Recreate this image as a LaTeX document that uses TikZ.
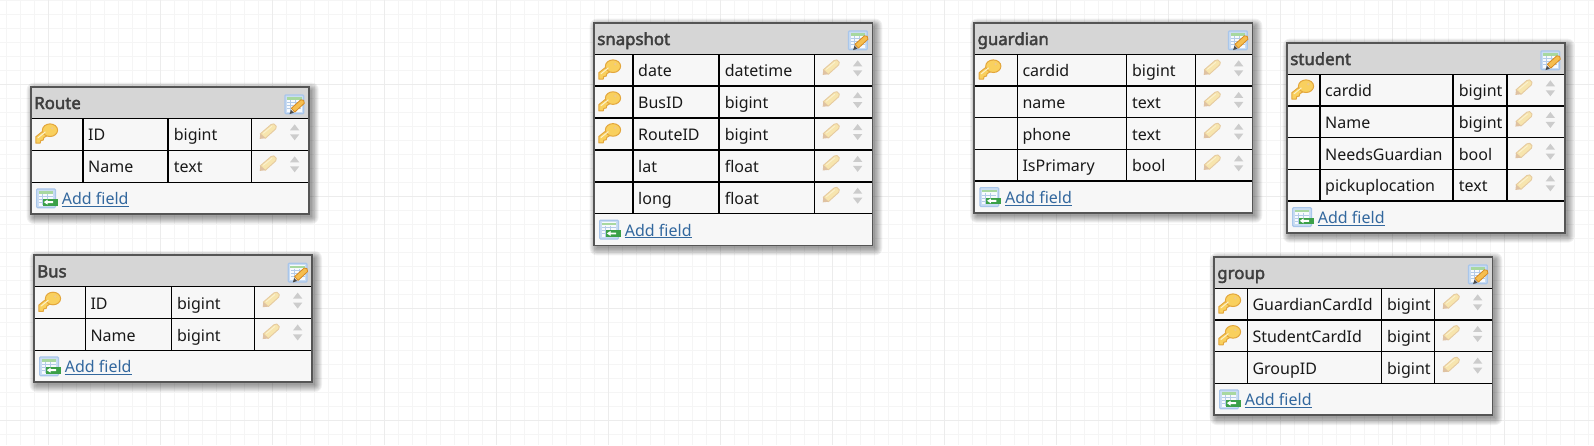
\documentclass[tikz,border=0pt]{standalone}
\usepackage{fontspec}
\setmainfont{Noto Sans}[AutoFakeBold=2.6]
\definecolor{gridminor}{HTML}{F5F5F5}
\definecolor{gridmajor}{HTML}{ECECEC}
\definecolor{headfill}{HTML}{D6D6D6}
\definecolor{rowfill}{HTML}{F7F7F7}
\definecolor{edgegray}{HTML}{555555}
\definecolor{titlegray}{HTML}{3F3F3F}
\definecolor{linkblue}{HTML}{33689E}
\definecolor{keyfill}{HTML}{F9D05E}
\definecolor{keyedge}{HTML}{E3A63C}
\definecolor{penfill}{HTML}{F7E5AE}
\definecolor{penedge}{HTML}{E6CBA0}
\definecolor{penlight}{HTML}{FBF1CC}
\definecolor{pentip}{HTML}{DFC2A2}
\definecolor{sheetedge}{HTML}{A9C6EA}
\definecolor{sheetfill}{HTML}{C9DCF3}
\definecolor{sheetgrid}{HTML}{B4CBE8}
\definecolor{sheetbar}{HTML}{A8D8A0}
\definecolor{editfill}{HTML}{F6BE4F}
\definecolor{editedge}{HTML}{D68A22}
\definecolor{addgreen}{HTML}{3BA048}
\tikzset{
  titletext/.style={anchor=base west,inner sep=0pt,font=\fontsize{16.8}{18}\selectfont\bfseries,text=titlegray},
  celltext/.style={anchor=base west,inner sep=0pt,font=\fontsize{16}{18}\selectfont,text=black!90},
  linktext/.style={anchor=base west,inner sep=0pt,font=\fontsize{16}{18}\selectfont,text=linkblue},
  tableline/.style={line width=1.6pt,draw=black},
  dbkey/.pic={
    \draw[draw=keyedge,fill=keyfill,line width=1pt,line join=round]
      (9.5,6.5) -- (0.8,13.5) -- (0.8,19.8) -- (5.2,19.8) -- (5.8,17.2) -- (8.2,16.8) -- (8.8,14.4) -- (13,11.8) -- cycle;
    \draw[draw=keyedge,fill=keyfill,line width=1pt]
      (15,6.9) ellipse [x radius=7.6,y radius=6.3];
    \fill[keyedge!60!white] (17.3,4.9) circle (1.4);
    \draw[penlight,line width=1pt,line cap=round] (3,14.5) -- (10.2,8.7);
  },
  dbpencil/.pic={
    \draw[draw=penedge,fill=penfill,line width=.9pt,line join=round]
      (1,10.5) -- (11.8,1.2) -- (14.6,0.6) -- (17,3) -- (16.4,5.6) -- (6,15) -- cycle;
    \fill[pentip] (0.4,15.6) -- (1,10.5) -- (6,15) -- cycle;
    \draw[penlight,line width=1pt,line cap=round] (4,10) -- (12.5,3);
  },
  dbarrows/.pic={
    \fill[black!20] (4.65,0) -- (9.3,6) -- (0,6) -- cycle;
    \fill[black!20] (0,10) -- (9.3,10) -- (4.65,16) -- cycle;
  },
  dbsheet/.pic={
    \draw[draw=sheetedge,fill=sheetfill,line width=1.2pt,rounded corners=1pt] (.6,.6) rectangle (19.4,19.4);
    \fill[white!85!sheetfill] (2.8,2.8) rectangle (17.2,17.2);
    \fill[sheetbar] (2.8,3) rectangle (17.2,5.2);
    \foreach \gy in {8,11,14} \draw[sheetgrid,line width=.8pt] (3,\gy) -- (17,\gy);
    \foreach \gx in {6.5,11.5} \draw[sheetgrid,line width=.8pt] (\gx,6) -- (\gx,17);
  },
  dbeditpen/.pic={
    \draw[draw=editedge,fill=editfill,line width=.8pt,line join=round]
      (7,14) -- (16.5,5.5) -- (19.3,6) -- (20,9) -- (10.5,17.8) -- cycle;
    \fill[black!70] (5.2,19.8) -- (6.6,15.4) -- (9.6,18.4) -- cycle;
  },
  dbaddarrow/.pic={
    \fill[addgreen] (6.5,10.5) rectangle (21.5,17.2);
    \fill[white] (7.8,13.8) -- (11.5,11.4) -- (11.5,12.9) -- (17,12.9) -- (17,14.8) -- (11.5,14.8) -- (11.5,16.3) -- cycle;
  },
}
% #1 id, #2 title, #3 L, #4 R, #5 T, #6 B, #7 c1, #8 c2, #9 c3; rows in \dbrows, row count in \dbn
\newcommand{\dbtable}[9]{%
  \pgfmathsetmacro{\rowh}{(#6-#5-63.3)/\dbn}
  \pgfmathsetmacro{\headb}{#5+31.6}
  \pgfmathsetmacro{\rowsb}{#6-31.7}
  \foreach \sr in {7,6,...,0}{
    \fill[black,opacity=.055,rounded corners=\sr pt] ({#3+3-\sr},{#5+3-\sr}) rectangle ({#4+3+\sr},{#6+3+\sr});
  }
  \fill[rowfill] (#3,#5) rectangle (#4,#6);
  \fill[headfill] (#3,#5) rectangle (#4,\headb);
  \foreach \fk/\fn/\ft [count=\ri] in \dbrows {
    \pgfmathsetmacro{\rt}{\headb+(\ri-1)*\rowh}
    \pgfmathsetmacro{\rb}{\rt+\rowh}
    \draw[tableline] (#3,\rb) -- (#4,\rb);
    \ifnum\fk=1 \pic at ({#3+4.3},{\rt+5}) {dbkey}; \fi
    \node[celltext] (#1-name-\ri) at ({#7+5},{\rt+22.6}) {\fn};
    \node[celltext] (#1-type-\ri) at ({#8+5.6},{\rt+22.6}) {\ft};
    \pic at ({#9+8},{\rt+5}) {dbpencil};
    \pic at ({#9+38.7},{\rt+6}) {dbarrows};
  }
  \draw[tableline] (#3,\headb) -- (#4,\headb);
  \foreach \cx in {#7,#8,#9} \draw[tableline] (\cx,\headb) -- (\cx,\rowsb);
  \draw[edgegray,line width=1.6pt] (#3,#5) rectangle (#4,#6);
  \node[titletext] (#1-title) at ({#3+3.4},{#5+22.3}) {#2};
  \pic at ({#4-24.4},{#5+7.6}) {dbsheet};
  \pic at ({#4-24.4},{#5+7.6}) {dbeditpen};
  \pic at ({#3+5.3},{\rowsb+6}) {dbsheet};
  \pic at ({#3+5.3},{\rowsb+6}) {dbaddarrow};
  \node[linktext] (#1-add) at ({#3+31},{\rowsb+22.6}) {Add field};
  \draw[linkblue,line width=.9pt] ([yshift=-1.6pt]#1-add.base west) -- ([yshift=-1.6pt]#1-add.base east);
}
\begin{document}
\begin{tikzpicture}[x=1pt,y=-1pt]
\useasboundingbox (0,0) rectangle (1594,445);
\fill[white] (0,0) rectangle (1594,445);
% background grid
\foreach \k in {-3,...,110} {
  \pgfmathsetmacro{\gx}{48.7+14*\k}
  \draw[gridminor,line width=1.5pt] (\gx,0) -- (\gx,445);
}
\foreach \k in {0,...,32} {
  \pgfmathsetmacro{\gy}{0.7+14*\k}
  \draw[gridminor,line width=1.5pt] (0,\gy) -- (1594,\gy);
}
\foreach \k in {0,...,13} {
  \pgfmathsetmacro{\gx}{48.7+112*\k}
  \draw[gridmajor,line width=1.5pt] (\gx,0) -- (\gx,445);
}
\foreach \k in {0,...,3} {
  \pgfmathsetmacro{\gy}{84.7+112*\k}
  \draw[gridmajor,line width=1.5pt] (0,\gy) -- (1594,\gy);
}
\def\dbn{2}\def\dbrows{1/ID/bigint,0/Name/text}
\dbtable{route}{Route}{30.7}{308.7}{86.7}{214}{83}{168}{251.3}
\def\dbn{2}\def\dbrows{1/ID/bigint,0/Name/bigint}
\dbtable{bus}{Bus}{33.7}{312}{255}{382}{85.3}{171.3}{254.3}
\def\dbn{5}\def\dbrows{1/date/datetime,1/BusID/bigint,1/RouteID/bigint,0/lat/float,0/long/float}
\dbtable{snapshot}{snapshot}{593.7}{872.3}{22.7}{245.3}{633}{719}{814.3}
\def\dbn{4}\def\dbrows{1/cardid/bigint,0/name/text,0/phone/text,0/IsPrimary/bool}
\dbtable{guardian}{guardian}{974}{1252.3}{22.7}{212.7}{1017.3}{1126.3}{1195.3}
\def\dbn{4}\def\dbrows{1/cardid/bigint,0/Name/bigint,0/NeedsGuardian/bool,0/pickuplocation/text}
\dbtable{student}{student}{1286.7}{1564.7}{42.7}{232.7}{1320}{1453}{1507}
\def\dbn{3}\def\dbrows{1/GuardianCardId/bigint,1/StudentCardId/bigint,0/GroupID/bigint}
\dbtable{group}{group}{1213.7}{1492.3}{256.7}{415}{1247.3}{1381.3}{1434.3}
\end{tikzpicture}
\end{document}
